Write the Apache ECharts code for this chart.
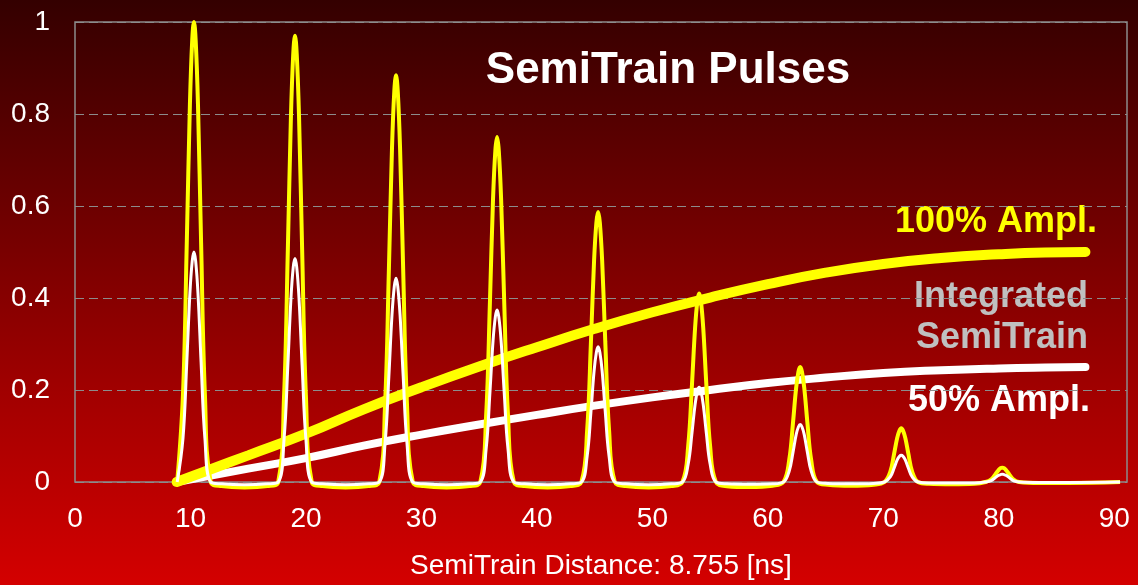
<!DOCTYPE html>
<html>
<head>
<meta charset="utf-8">
<script src="https://cdn.jsdelivr.net/npm/echarts@6/dist/echarts.min.js"></script>
<style>
  html, body { margin: 0; padding: 0; }
  #chart {
    width: 1138px;
    height: 585px;
    background: linear-gradient(to bottom, #340000 0%, #6c0000 35%, #9e0000 65%, #d40000 100%);
  }
</style>
</head>
<body>
<div id="chart"></div>
<script>
const xTicks = [0, 10, 20, 30, 40, 50, 60, 70, 80, 90]
const yTicks = [0, 0.2, 0.4, 0.6, 0.8, 1]

// pulse outline, x in ns (one row per pulse)
const pulseX = [
  8.85, 9.35, 9.68, 9.95, 10.15, 10.3, 10.45, 10.65, 10.92, 11.25, 11.75, 12.7, 14.68, 16.65,
  17.6, 18.1, 18.43, 18.7, 18.9, 19.05, 19.2, 19.4, 19.67, 20.0, 20.5, 21.45, 23.43, 25.4,
  26.35, 26.85, 27.18, 27.45, 27.65, 27.8, 27.95, 28.15, 28.42, 28.75, 29.25, 30.2, 32.18, 34.15,
  35.1, 35.6, 35.93, 36.2, 36.4, 36.55, 36.7, 36.9, 37.17, 37.5, 38.0, 38.95, 40.93, 42.9,
  43.85, 44.35, 44.68, 44.95, 45.15, 45.3, 45.45, 45.65, 45.92, 46.25, 46.75, 47.7, 49.68, 51.65,
  52.6, 53.1, 53.43, 53.7, 53.9, 54.05, 54.2, 54.4, 54.67, 55.0, 55.5, 56.45, 58.43, 60.4,
  61.35, 61.85, 62.18, 62.45, 62.65, 62.8, 62.95, 63.15, 63.42, 63.75, 64.25, 65.2, 67.18, 69.15,
  70.1, 70.6, 70.93, 71.2, 71.4, 71.55, 71.7, 71.9, 72.17, 72.5, 73.0, 73.95, 75.93, 77.9,
  78.85, 79.35, 79.68, 79.95, 80.15, 80.3, 80.45, 80.65, 80.92, 81.25, 81.75, 83.5, 86.0, 90.5
]
const pulseFull = [
  0, 0.19, 0.52, 0.82, 0.96, 1, 0.96, 0.82, 0.52, 0.19, 0, -0.009, -0.012, -0.009,
  0, 0.184, 0.504, 0.795, 0.931, 0.97, 0.931, 0.795, 0.504, 0.184, 0, -0.009, -0.012, -0.009,
  0, 0.168, 0.46, 0.725, 0.849, 0.884, 0.849, 0.725, 0.46, 0.168, 0, -0.009, -0.012, -0.009,
  0, 0.143, 0.39, 0.615, 0.72, 0.75, 0.72, 0.615, 0.39, 0.143, 0, -0.009, -0.012, -0.009,
  0, 0.112, 0.305, 0.481, 0.564, 0.587, 0.564, 0.481, 0.305, 0.112, 0, -0.009, -0.012, -0.009,
  0, 0.078, 0.213, 0.336, 0.394, 0.41, 0.394, 0.336, 0.213, 0.078, 0, -0.009, -0.011, -0.008,
  0, 0.048, 0.13, 0.205, 0.24, 0.25, 0.24, 0.205, 0.13, 0.048, 0, -0.006, -0.008, -0.006,
  0, 0.022, 0.061, 0.096, 0.112, 0.117, 0.112, 0.096, 0.061, 0.022, 0, -0.004, -0.005, -0.004,
  0, 0.006, 0.016, 0.025, 0.03, 0.031, 0.03, 0.025, 0.016, 0.006, 0, -0.002, -0.002, 0
]
const pulseHalf = [
  0, 0.095, 0.26, 0.41, 0.48, 0.5, 0.48, 0.41, 0.26, 0.095, 0, -0.004, -0.006, -0.004,
  0, 0.092, 0.253, 0.399, 0.467, 0.486, 0.467, 0.399, 0.253, 0.092, 0, -0.004, -0.006, -0.004,
  0, 0.084, 0.23, 0.363, 0.425, 0.443, 0.425, 0.363, 0.23, 0.084, 0, -0.004, -0.006, -0.004,
  0, 0.071, 0.194, 0.307, 0.359, 0.374, 0.359, 0.307, 0.194, 0.071, 0, -0.004, -0.006, -0.004,
  0, 0.056, 0.153, 0.241, 0.282, 0.294, 0.282, 0.241, 0.153, 0.056, 0, -0.004, -0.006, -0.004,
  0, 0.039, 0.107, 0.169, 0.198, 0.206, 0.198, 0.169, 0.107, 0.039, 0, -0.004, -0.005, -0.004,
  0, 0.024, 0.065, 0.103, 0.12, 0.125, 0.12, 0.103, 0.065, 0.024, 0, -0.003, -0.004, -0.003,
  0, 0.011, 0.03, 0.048, 0.056, 0.058, 0.056, 0.048, 0.03, 0.011, 0, -0.002, -0.002, -0.002,
  0, 0.003, 0.009, 0.014, 0.016, 0.017, 0.016, 0.014, 0.009, 0.003, 0, -0.001, -0.001, 0
]

// integrated semitrain
const intX = [8.8, 12, 15, 20, 25, 30, 35, 40, 45, 50, 55, 60, 65, 70, 75, 80, 84, 87.5]
const intFull = [0, 0.03, 0.058, 0.105, 0.158, 0.206, 0.251, 0.293, 0.333, 0.369, 0.401, 0.43, 0.455, 0.474, 0.487, 0.495, 0.499, 0.5]
const intHalf = [0, 0.015, 0.029, 0.052, 0.079, 0.103, 0.125, 0.146, 0.166, 0.184, 0.2, 0.215, 0.227, 0.237, 0.243, 0.247, 0.249, 0.25]

const zip = (xs, ys) => xs.map((x, i) => [x, ys[i]])
const font = "'Liberation Sans', Arial, sans-serif"

const chart = echarts.init(document.getElementById('chart'))
chart.setOption({
  animation: false,
  backgroundColor: 'transparent',
  grid: {
    left: 75,
    right: 11,
    top: 22,
    bottom: 99,
    show: true,
    borderColor: '#8c8c8c',
    borderWidth: 1.5
  },
  xAxis: {
    type: 'value',
    min: 0,
    max: 91.1,
    interval: 10,
    name: 'SemiTrain Distance: 8.755 [ns]',
    nameLocation: 'middle',
    nameGap: 70,
    nameTextStyle: { color: '#fff', fontSize: 28, fontFamily: font },
    axisLine: { show: false },
    axisTick: { show: false },
    splitLine: { show: false },
    axisLabel: {
      color: '#fff',
      fontSize: 28,
      fontFamily: font,
      margin: 23,
      showMaxLabel: false,
      formatter: v => xTicks.includes(v) ? String(v) : ''
    }
  },
  yAxis: {
    type: 'value',
    min: 0,
    max: 1,
    interval: 0.2,
    axisLine: { show: false },
    axisTick: { show: false },
    splitLine: {
      lineStyle: { color: '#8c8c8c', type: [9, 5], width: 1 }
    },
    axisLabel: {
      color: '#fff',
      fontSize: 28,
      fontFamily: font,
      margin: 25,
      formatter: v => yTicks.includes(+v.toFixed(1)) ? String(+v.toFixed(1)) : ''
    }
  },
  series: [
    {
      type: 'line',
      data: zip(intX, intHalf),
      smooth: true,
      showSymbol: false,
      clip: false,
      lineStyle: { color: '#fff', width: 8, cap: 'round' }
    },
    {
      type: 'line',
      data: zip(intX, intFull),
      smooth: true,
      showSymbol: false,
      clip: false,
      lineStyle: { color: '#ffff00', width: 10, cap: 'round' }
    },
    {
      type: 'line',
      data: zip(pulseX, pulseFull),
      smooth: 0.4,
      showSymbol: false,
      clip: false,
      lineStyle: { color: '#ffff00', width: 4 }
    },
    {
      type: 'line',
      data: zip(pulseX, pulseHalf),
      smooth: 0.4,
      showSymbol: false,
      clip: false,
      lineStyle: { color: '#fff', width: 3 }
    }
  ],
  graphic: [
    {
      type: 'text', x: 668, y: 71,
      style: { text: 'SemiTrain Pulses', fill: '#fff', font: 'bold 44px ' + font, align: 'center', verticalAlign: 'middle' }
    },
    {
      type: 'text', x: 1097, y: 222,
      style: { text: '100% Ampl.', fill: '#ffff00', font: 'bold 36px ' + font, align: 'right', verticalAlign: 'middle' }
    },
    {
      type: 'text', x: 1088, y: 297,
      style: { text: 'Integrated', fill: '#c0c0c0', font: 'bold 36px ' + font, align: 'right', verticalAlign: 'middle' }
    },
    {
      type: 'text', x: 1088, y: 338,
      style: { text: 'SemiTrain', fill: '#c0c0c0', font: 'bold 36px ' + font, align: 'right', verticalAlign: 'middle' }
    },
    {
      type: 'text', x: 1090, y: 401,
      style: { text: '50% Ampl.', fill: '#fff', font: 'bold 36px ' + font, align: 'right', verticalAlign: 'middle' }
    }
  ]
})
</script>
</body>
</html>
